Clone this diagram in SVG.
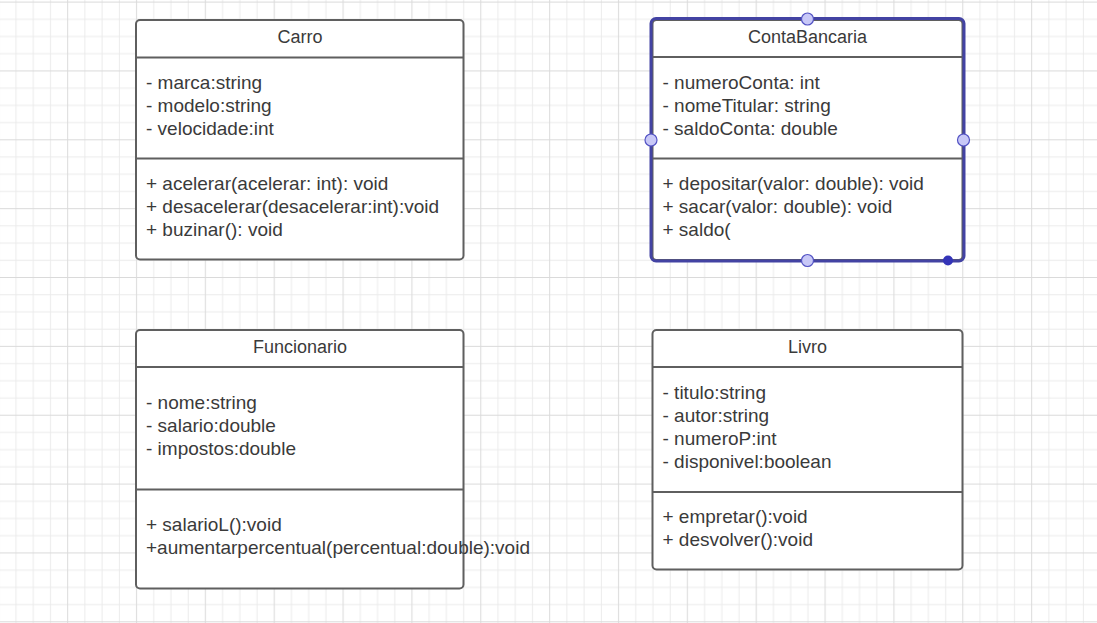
<svg xmlns="http://www.w3.org/2000/svg" width="1097" height="623" viewBox="0 0 1097 623">
<style>
.box{fill:#ffffff;stroke:#5f5f5f;stroke-width:2}
.div{stroke:#5f5f5f;stroke-width:2}
.t{font-family:"Liberation Sans",Arial,sans-serif;font-size:18px;fill:#3a3a3a;text-anchor:middle}
.b{font-family:"Liberation Sans",Arial,sans-serif;font-size:19px;fill:#3a3a3a}
.sel{fill:none;stroke:#4343a3;stroke-width:3}
.h{fill:#c8c8f7;stroke:#5252c4;stroke-width:1.2}
.hd{fill:#3434b8}
</style>
<defs>
<pattern id="grid" patternUnits="userSpaceOnUse" x="-9.76" y="-6.4" width="68.857" height="68.857">
<g stroke="#ebebeb" stroke-width="1">
<line x1="25.81" y1="0" x2="25.81" y2="68.857"/>
<line x1="43.03" y1="0" x2="43.03" y2="68.857"/>
<line x1="60.24" y1="0" x2="60.24" y2="68.857"/>
<line x1="0" y1="25.81" x2="68.857" y2="25.81"/>
<line x1="0" y1="43.03" x2="68.857" y2="43.03"/>
<line x1="0" y1="60.24" x2="68.857" y2="60.24"/>
</g>
<g stroke="#dadada" stroke-width="1">
<line x1="8.6" y1="0" x2="8.6" y2="68.857"/>
<line x1="0" y1="8.6" x2="68.857" y2="8.6"/>
</g>
</pattern>
</defs>
<rect width="1097" height="623" fill="#ffffff"/>
<rect width="1097" height="623" fill="url(#grid)"/>

<g id="connectors"></g>

<g id="Carro">
<rect class="box" x="136" y="20" width="327.5" height="239.5" rx="4"/>
<line class="div" x1="136" y1="57.5" x2="463.5" y2="57.5"/>
<line class="div" x1="136" y1="158.5" x2="463.5" y2="158.5"/>
<text class="t" x="300" y="42.7">Carro</text>
<text class="b" x="146" y="89">- marca:string</text>
<text class="b" x="146" y="112">- modelo:string</text>
<text class="b" x="146" y="135">- velocidade:int</text>
<text class="b" x="146" y="189.5">+ acelerar(acelerar: int): void</text>
<text class="b" x="146" y="212.5">+ desacelerar(desacelerar:int):void</text>
<text class="b" x="146" y="235.5">+ buzinar(): void</text>
</g>

<g id="ContaBancaria">
<rect class="box" x="652.5" y="20" width="310" height="240" rx="4"/>
<line class="div" x1="652.5" y1="57" x2="962.5" y2="57"/>
<line class="div" x1="652.5" y1="158.5" x2="962.5" y2="158.5"/>
<text class="t" x="807.5" y="42.7">ContaBancaria</text>
<text class="b" x="662.5" y="89">- numeroConta: int</text>
<text class="b" x="662.5" y="112">- nomeTitular: string</text>
<text class="b" x="662.5" y="135">- saldoConta: double</text>
<text class="b" x="662.5" y="190">+ depositar(valor: double): void</text>
<text class="b" x="662.5" y="213">+ sacar(valor: double): void</text>
<text class="b" x="662.5" y="236">+ saldo(</text>
<rect class="sel" x="651" y="18.5" width="313" height="242.5" rx="5"/>
<circle class="h" cx="807.5" cy="19" r="6"/>
<circle class="h" cx="651" cy="140" r="6"/>
<circle class="h" cx="963.5" cy="140" r="6"/>
<circle class="h" cx="807.5" cy="260.5" r="6"/>
<circle class="hd" cx="948" cy="260.5" r="5"/>
</g>

<g id="Funcionario">
<rect class="box" x="136" y="330" width="327.5" height="258.5" rx="4"/>
<line class="div" x1="136" y1="367" x2="463.5" y2="367"/>
<line class="div" x1="136" y1="489.5" x2="463.5" y2="489.5"/>
<text class="t" x="300" y="352.7">Funcionario</text>
<text class="b" x="146" y="409">- nome:string</text>
<text class="b" x="146" y="432">- salario:double</text>
<text class="b" x="146" y="455">- impostos:double</text>
<text class="b" x="146" y="531">+ salarioL():void</text>
<text class="b" x="146" y="554">+aumentarpercentual(percentual:double):void</text>
</g>

<g id="Livro">
<rect class="box" x="652.5" y="330" width="310" height="239.5" rx="4"/>
<line class="div" x1="652.5" y1="367" x2="962.5" y2="367"/>
<line class="div" x1="652.5" y1="492" x2="962.5" y2="492"/>
<text class="t" x="807.5" y="352.7">Livro</text>
<text class="b" x="662.5" y="399">- titulo:string</text>
<text class="b" x="662.5" y="422">- autor:string</text>
<text class="b" x="662.5" y="445">- numeroP:int</text>
<text class="b" x="662.5" y="468">- disponivel:boolean</text>
<text class="b" x="662.5" y="522.7">+ empretar():void</text>
<text class="b" x="662.5" y="545.7">+ desvolver():void</text>
</g>
</svg>
